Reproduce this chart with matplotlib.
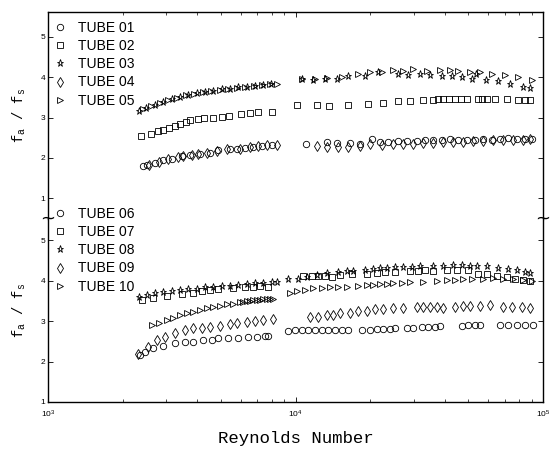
import matplotlib
matplotlib.use("Agg")
import matplotlib.pyplot as plt
from matplotlib.ticker import LogLocator, NullFormatter, FixedLocator

plt.rcParams['font.family'] = ['Liberation Sans', 'DejaVu Sans']
plt.rcParams['mathtext.fontset'] = 'custom'
plt.rcParams['mathtext.rm'] = 'Liberation Mono'
plt.rcParams['mathtext.it'] = 'Liberation Mono'

# ---------------- data (Re, fa/fs) ----------------
# TUBE 01 (circles, top)
re01 = [2430, 2520, 2710, 2920, 3160, 3470, 3750, 4110, 4510, 4880, 5440, 5790, 6250, 6750, 7300, 8010,
        11030, 13370, 14680, 16600, 18230, 20320, 21950, 23710, 26020, 28290, 30880, 33360, 36050, 38970,
        42090, 45480, 49170, 53120, 57390, 62050, 67040, 72430, 78300, 84590, 90020]
f01 = [1.79, 1.81, 1.87, 1.94, 1.98, 2.04, 2.08, 2.10, 2.13, 2.19, 2.23, 2.23, 2.24, 2.27, 2.29, 2.31,
       2.33, 2.39, 2.36, 2.37, 2.35, 2.47, 2.40, 2.39, 2.42, 2.41, 2.41, 2.43, 2.43, 2.44,
       2.46, 2.43, 2.45, 2.44, 2.46, 2.45, 2.47, 2.48, 2.47, 2.46, 2.47]
# TUBE 02 (squares, top)
re02 = [2380, 2600, 2780, 2920, 3090, 3260, 3410, 3610, 3750, 4030, 4270, 4630, 5030, 5400, 6040, 6550, 7080, 8020,
        10160, 12180, 13700, 16350, 19680, 22500, 26020, 29000, 32840, 36040, 37750, 39550, 41800, 44060,
        46640, 49170, 54800, 56540, 59270, 64000, 71330, 79460, 84550, 88550]
f02 = [2.53, 2.58, 2.66, 2.70, 2.75, 2.80, 2.84, 2.88, 2.93, 2.97, 2.99, 2.99, 3.02, 3.05, 3.09, 3.12, 3.13, 3.13,
       3.30, 3.30, 3.28, 3.31, 3.34, 3.37, 3.40, 3.40, 3.43, 3.44, 3.45, 3.45, 3.45, 3.45,
       3.45, 3.45, 3.47, 3.47, 3.47, 3.45, 3.45, 3.44, 3.43, 3.44]
# TUBE 03 (stars, top)
re03 = [2330, 2490, 2710, 2910, 3170, 3410, 3680, 4000, 4310, 4640, 5050, 5440, 5860, 6370, 6860, 7390, 7960,
        10590, 11800, 13160, 14680, 16340, 19100, 21610, 26020, 28560, 31840, 34950, 38970, 42770, 46940,
        51510, 53620, 58850, 65990, 73580, 83260, 88610]
f03 = [3.17, 3.24, 3.31, 3.38, 3.45, 3.51, 3.56, 3.61, 3.64, 3.67, 3.70, 3.72, 3.75, 3.77, 3.79, 3.81, 3.82,
       3.95, 3.94, 3.95, 3.95, 4.04, 4.04, 4.12, 4.08, 4.06, 4.08, 4.06, 4.04, 4.04, 4.00,
       3.95, 4.08, 3.94, 3.91, 3.83, 3.77, 3.73]
# TUBE 04 (diamonds, top)
re04 = [2570, 2820, 3060, 3360, 3520, 3810, 4050, 4380, 4800, 5270, 5970, 6550, 7070, 7650, 8400,
        12180, 13370, 14890, 16340, 18230, 20000, 22300, 24840, 27260, 29920, 32840, 36050, 39550, 43410,
        47640, 52290, 57390, 62990, 69130, 75860, 83260, 88610]
f04 = [1.81, 1.90, 1.98, 2.02, 2.04, 2.07, 2.10, 2.13, 2.16, 2.22, 2.22, 2.27, 2.29, 2.31, 2.31,
       2.30, 2.27, 2.28, 2.28, 2.30, 2.34, 2.32, 2.33, 2.35, 2.35, 2.37, 2.36, 2.38, 2.40,
       2.39, 2.41, 2.42, 2.44, 2.44, 2.45, 2.44, 2.46]
# TUBE 05 (triangles, top)
re05 = [2420, 2610, 2830, 3050, 3320, 3610, 3890, 4230, 4560, 4950, 5340, 5800, 6250, 6800, 7320, 7890, 8420,
        10590, 11990, 13370, 15370, 17940, 20000, 22300, 24840, 27260, 29920, 33890, 38360, 42090, 45480,
        50710, 55660, 62050, 70240, 79470, 90020]
f05 = [3.22, 3.29, 3.36, 3.43, 3.49, 3.55, 3.59, 3.63, 3.66, 3.69, 3.71, 3.74, 3.76, 3.78, 3.80, 3.82, 3.83,
       3.96, 3.96, 3.97, 4.01, 4.08, 4.12, 4.14, 4.18, 4.16, 4.20, 4.16, 4.19, 4.19, 4.16,
       4.14, 4.14, 4.09, 4.06, 4.00, 3.93]
# TUBE 06 (circles, bottom)
re06 = [2350, 2470, 2660, 2920, 3260, 3580, 3870, 4240, 4590, 4880, 5350, 5880, 6450, 6970, 7530, 7760,
        9350, 9950, 10590, 11270, 11990, 12760, 13570, 14440, 15370, 16340, 18520, 20000, 21290, 22630,
        24090, 25230, 28140, 29920, 32350, 34400, 36620, 38360, 46940, 49910, 53120, 55660, 67040, 72430,
        78300, 84590, 91390]
f06 = [2.16, 2.24, 2.33, 2.39, 2.45, 2.47, 2.49, 2.52, 2.53, 2.57, 2.57, 2.57, 2.60, 2.60, 2.62, 2.64,
       2.76, 2.77, 2.77, 2.77, 2.77, 2.77, 2.77, 2.77, 2.77, 2.77, 2.78, 2.79, 2.80, 2.80,
       2.81, 2.82, 2.84, 2.84, 2.85, 2.85, 2.86, 2.87, 2.88, 2.89, 2.89, 2.90, 2.90, 2.91,
       2.90, 2.90, 2.91]
# TUBE 07 (squares, bottom)
re07 = [2390, 2660, 3020, 3470, 3870, 4180, 4510, 4880, 5610, 6250, 6750, 7190, 7760,
        10750, 11630, 12370, 13160, 14010, 15130, 16870, 19400, 21290, 22990, 25230, 29010, 31350, 33360,
        36050, 40820, 44810, 49910, 54780, 59230, 65010, 71350, 77080, 83260, 88610]
f07 = [3.52, 3.58, 3.62, 3.67, 3.70, 3.73, 3.77, 3.78, 3.81, 3.83, 3.85, 3.86, 3.83,
       4.11, 4.11, 4.11, 4.11, 4.08, 4.13, 4.16, 4.16, 4.18, 4.22, 4.22, 4.24, 4.24, 4.25,
       4.24, 4.25, 4.26, 4.25, 4.16, 4.15, 4.11, 4.08, 4.03, 4.02, 3.99]
# TUBE 08 (stars, bottom)
re08 = [2340, 2510, 2710, 2920, 3160, 3410, 3690, 3990, 4310, 4660, 5030, 5440, 5880, 6350, 6860, 7410, 8010, 8400,
        9350, 10260, 11100, 12180, 13370, 14890, 16100, 17120, 19100, 20620, 21950, 23360, 25230, 27260,
        29480, 31840, 36050, 39550, 43410, 46940, 50710, 53970, 59230, 65990, 72430, 78300, 84590, 88610]
f08 = [3.60, 3.64, 3.68, 3.72, 3.74, 3.77, 3.78, 3.80, 3.83, 3.84, 3.86, 3.87, 3.89, 3.91, 3.93, 3.94, 3.97, 3.97,
       4.04, 4.04, 4.09, 4.14, 4.19, 4.22, 4.24, 4.24, 4.26, 4.28, 4.30, 4.31, 4.33, 4.33,
       4.34, 4.35, 4.37, 4.36, 4.38, 4.38, 4.37, 4.37, 4.36, 4.30, 4.28, 4.26, 4.22, 4.18]
# TUBE 09 (diamonds, bottom)
re09 = [2320, 2540, 2750, 2970, 3260, 3580, 3870, 4180, 4510, 4950, 5440, 5790, 6350, 6860, 7410, 8130,
        11440, 12370, 13370, 14140, 15130, 16600, 17940, 19400, 20950, 22630, 24840, 27260, 30880, 32840,
        34950, 37200, 39550, 44100, 47380, 50710, 55660, 61080, 69130, 74750, 82020, 88610]
f09 = [2.18, 2.37, 2.53, 2.61, 2.70, 2.78, 2.82, 2.84, 2.86, 2.88, 2.93, 2.95, 2.98, 3.01, 3.02, 3.04,
       3.09, 3.09, 3.15, 3.16, 3.19, 3.19, 3.25, 3.26, 3.29, 3.29, 3.31, 3.31, 3.34, 3.35,
       3.34, 3.34, 3.33, 3.35, 3.36, 3.36, 3.36, 3.40, 3.35, 3.34, 3.35, 3.31]
# TUBE 10 (triangles, bottom)
re10 = [2620, 2820, 3020, 3210, 3410, 3630, 3870, 4110, 4380, 4660, 4950, 5270, 5610, 5970, 6150, 6350,
        6550, 6750, 6970, 7190, 7410, 7650, 7890, 8130,
        9500, 10110, 10920, 11800, 12760, 13790, 14890, 16100, 17940, 19400, 20620, 21950, 23360, 24840,
        26860, 29010, 32840, 37200, 40820, 44100, 47640, 51510, 57390, 62990, 69130, 75860, 83260, 90020]
f10 = [2.90, 2.96, 3.02, 3.07, 3.15, 3.19, 3.23, 3.27, 3.31, 3.35, 3.37, 3.41, 3.43, 3.46, 3.48, 3.49,
       3.50, 3.51, 3.52, 3.53, 3.54, 3.54, 3.55, 3.55,
       3.68, 3.75, 3.77, 3.81, 3.81, 3.83, 3.85, 3.85, 3.86, 3.88, 3.89, 3.91, 3.92, 3.93,
       3.95, 3.96, 3.97, 3.99, 4.01, 4.01, 4.03, 4.03, 4.05, 4.07, 4.05, 4.03, 4.01, 3.99]

top_labels = ["TUBE 01", "TUBE 02", "TUBE 03", "TUBE 04", "TUBE 05"]
bot_labels = ["TUBE 06", "TUBE 07", "TUBE 08", "TUBE 09", "TUBE 10"]
y_ticks = [1, 2, 3, 4, 5]

markers = ['o', 's', '*', 'd', '>']
msizes = [4.6, 3.9, 5.2, 5.6, 5.0]

fig = plt.figure(figsize=(5.51, 4.49), dpi=100)
L, R = 48 / 551, 543 / 551
ax_top = fig.add_axes([L, (449 - 219) / 449, R - L, (219 - 12) / 449])
ax_bot = fig.add_axes([L, (449 - 402) / 449, R - L, (402 - 219) / 449])

top_data = [(re01, f01), (re02, f02), (re03, f03), (re04, f04), (re05, f05)]
bot_data = [(re06, f06), (re07, f07), (re08, f08), (re09, f09), (re10, f10)]

handles_top, handles_bot = [], []
for (x, y), m, ms, lab in zip(top_data, markers, msizes, top_labels):
    h, = ax_top.plot(x, y, linestyle='none', marker=m, markersize=ms, markerfacecolor='none',
                     markeredgecolor='black', markeredgewidth=0.6, label=lab)
    handles_top.append(h)
for (x, y), m, ms, lab in zip(bot_data, markers, msizes, bot_labels):
    h, = ax_bot.plot(x, y, linestyle='none', marker=m, markersize=ms, markerfacecolor='none',
                     markeredgecolor='black', markeredgewidth=0.6, label=lab)
    handles_bot.append(h)

ax_top.set_ylim(0.48, 5.62)
ax_bot.set_ylim(1.0, 5.52)

for ax in (ax_top, ax_bot):
    ax.set_xscale('log')
    ax.set_xlim(1e3, 1e5)
    ax.yaxis.set_major_locator(FixedLocator(y_ticks))
    ax.xaxis.set_major_locator(LogLocator(base=10))
    ax.xaxis.set_minor_locator(LogLocator(base=10, subs=range(2, 10)))
    ax.xaxis.set_minor_formatter(NullFormatter())
    for s in ax.spines.values():
        s.set_linewidth(1.0)
    ax.tick_params(axis='both', which='major', direction='in', length=3.5, width=0.6,
                   labelsize=6, pad=2)
    ax.tick_params(axis='both', which='minor', direction='in', length=2, width=0.5)
    ax.tick_params(axis='y', which='both', left=True, right=True)
    ax.set_ylabel(r'$\mathrm{f_a}$ / $\mathrm{f_s}$', family='Liberation Mono', fontsize=10,
                  labelpad=9)

ax_top.spines['bottom'].set_visible(False)
ax_top.tick_params(axis='x', which='both', bottom=False, top=True, labelbottom=False)
ax_bot.spines['top'].set_visible(False)
ax_bot.tick_params(axis='x', which='both', bottom=True, top=False)
ax_bot.tick_params(axis='x', which='major', pad=5)
ax_bot.set_xlabel('Reynolds Number', family='Liberation Mono', fontsize=12.5, labelpad=8)

leg_kw = dict(loc='upper left', frameon=False, fontsize=10, handlelength=1.0,
              handletextpad=0.8, labelspacing=0.3, borderpad=0, borderaxespad=0,
              bbox_transform=fig.transFigure)
fig.legend(handles=handles_top, labels=top_labels, bbox_to_anchor=(53 / 551, (449 - 21) / 449), **leg_kw)
fig.legend(handles=handles_bot, labels=bot_labels, bbox_to_anchor=(53 / 551, (449 - 207) / 449), **leg_kw)

# break marks on the axis
for xf in (L, R):
    fig.text(xf, (449 - 219) / 449, '~', ha='center', va='center', fontsize=13, family='DejaVu Sans')

fig.savefig('out.png', dpi=100)
